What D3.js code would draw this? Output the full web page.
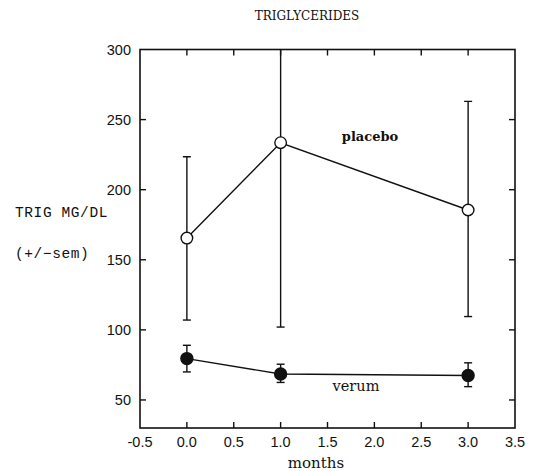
<!DOCTYPE html>
<html lang="en">
<head>
  <meta charset="UTF-8">
  <title>Triglycerides</title>
  <script src="https://d3js.org/d3.v7.min.js"></script>
  <style>
    body { margin: 0; background: #fff; }
    svg { display: block; }
    .tick-label { font-family: 'Liberation Sans', Arial, sans-serif; font-size: 14.5px; fill: #111; }
    .serif { font-family: 'DejaVu Serif', serif; fill: #111; }
    .mono { font-family: 'Liberation Mono', 'Courier New', monospace; fill: #111; font-size: 14.5px; letter-spacing: 0.6px; }
  </style>
</head>
<body>
  <svg id="chart" width="538" height="471"></svg>

  <script>
    // values
    const months = [0, 1, 3];
    const placeboMean = [165.5, 233.5, 185.5];
    const placeboLow  = [107, 102, 109.5];
    const placeboHigh = [223.5, 365, 263];
    const verumMean = [79.5, 68.5, 67.5];
    const verumLow  = [70, 62.5, 59.5];
    const verumHigh = [89, 75.5, 76.5];
    const xTicks = [-0.5, 0, 0.5, 1, 1.5, 2, 2.5, 3, 3.5];
    const yTicks = [50, 100, 150, 200, 250, 300];

    const svg = d3.select("#chart");
    const pLeft = 140, pRight = 515, pTop = 49.5, pBottom = 428;

    const x = d3.scaleLinear().domain([-0.5, 3.5]).range([pLeft, pRight]);
    const y = d3.scaleLinear().domain([30, 300]).range([pBottom, pTop]);

    const plot = svg.append("g");

    // frame
    plot.append("rect")
      .attr("x", pLeft).attr("y", pTop)
      .attr("width", pRight - pLeft).attr("height", pBottom - pTop)
      .attr("fill", "none").attr("stroke", "#111").attr("stroke-width", 1.6);

    // inward ticks on all four sides
    const tl = 6;
    const innerX = xTicks.filter(t => t > -0.5 && t < 3.5);
    const innerY = yTicks.filter(t => t > 30 && t < 300);
    plot.selectAll(".xt-top").data(innerX).enter().append("line")
      .attr("x1", d => x(d)).attr("x2", d => x(d))
      .attr("y1", pTop).attr("y2", pTop + tl)
      .attr("stroke", "#111").attr("stroke-width", 1.4);
    plot.selectAll(".xt-bot").data(innerX).enter().append("line")
      .attr("x1", d => x(d)).attr("x2", d => x(d))
      .attr("y1", pBottom).attr("y2", pBottom - tl)
      .attr("stroke", "#111").attr("stroke-width", 1.4);
    plot.selectAll(".yt-left").data(innerY).enter().append("line")
      .attr("x1", pLeft).attr("x2", pLeft + tl)
      .attr("y1", d => y(d)).attr("y2", d => y(d))
      .attr("stroke", "#111").attr("stroke-width", 1.4);
    plot.selectAll(".yt-right").data(innerY).enter().append("line")
      .attr("x1", pRight).attr("x2", pRight - tl)
      .attr("y1", d => y(d)).attr("y2", d => y(d))
      .attr("stroke", "#111").attr("stroke-width", 1.4);

    // tick labels
    svg.selectAll(".xl").data(xTicks).enter().append("text")
      .attr("class", "tick-label")
      .attr("x", d => x(d)).attr("y", 447)
      .attr("text-anchor", "middle")
      .text(d => d3.format(".1f")(d).replace("\u2212", "-"));
    svg.selectAll(".yl").data(yTicks).enter().append("text")
      .attr("class", "tick-label")
      .attr("x", 131).attr("y", d => y(d) + 5)
      .attr("text-anchor", "end")
      .text(d => d);

    // titles
    svg.append("text").attr("class", "serif")
      .attr("x", 307).attr("y", 20).attr("text-anchor", "middle")
      .style("font-size", "12px").text("TRIGLYCERIDES");
    svg.append("text").attr("class", "serif")
      .attr("x", 316).attr("y", 468).attr("text-anchor", "middle")
      .style("font-size", "15px").text("months");
    svg.append("text").attr("class", "mono")
      .attr("x", 15).attr("y", 217)
      .text("TRIG MG/DL");
    svg.append("text").attr("class", "mono")
      .attr("x", 15).attr("y", 258)
      .text("(+/\u2212sem)");

    svg.append("clipPath").attr("id", "plotClip")
      .append("rect").attr("x", pLeft).attr("y", pTop)
      .attr("width", pRight - pLeft).attr("height", pBottom - pTop);

    function series(mean, low, high, filled) {
      const g = svg.append("g").attr("clip-path", "url(#plotClip)");
      const pts = months.map((m, i) => ({ m, v: mean[i], lo: low[i], hi: high[i] }));

      g.selectAll(".err").data(pts).enter().append("line")
        .attr("x1", d => x(d.m)).attr("x2", d => x(d.m))
        .attr("y1", d => y(d.lo)).attr("y2", d => y(d.hi))
        .attr("stroke", "#111").attr("stroke-width", 1.4);
      g.selectAll(".cap-lo").data(pts).enter().append("line")
        .attr("x1", d => x(d.m) - 4).attr("x2", d => x(d.m) + 4)
        .attr("y1", d => y(d.lo)).attr("y2", d => y(d.lo))
        .attr("stroke", "#111").attr("stroke-width", 1.4);
      g.selectAll(".cap-hi").data(pts).enter().append("line")
        .attr("x1", d => x(d.m) - 4).attr("x2", d => x(d.m) + 4)
        .attr("y1", d => y(d.hi)).attr("y2", d => y(d.hi))
        .attr("stroke", "#111").attr("stroke-width", 1.4);

      g.append("path").datum(pts)
        .attr("d", d3.line().x(d => x(d.m)).y(d => y(d.v)))
        .attr("fill", "none").attr("stroke", "#111").attr("stroke-width", 1.4);

      g.selectAll(".pt").data(pts).enter().append("circle")
        .attr("cx", d => x(d.m)).attr("cy", d => y(d.v))
        .attr("r", filled ? 6 : 5.8)
        .attr("fill", filled ? "#111" : "#fff")
        .attr("stroke", "#111").attr("stroke-width", 1.4);
    }

    series(placeboMean, placeboLow, placeboHigh, false);
    series(verumMean, verumLow, verumHigh, true);

    svg.append("text").attr("class", "serif")
      .attr("x", 370).attr("y", 141).attr("text-anchor", "middle")
      .style("font-size", "13px").style("font-weight", "bold").text("placebo");
    svg.append("text").attr("class", "serif")
      .attr("x", 356).attr("y", 391).attr("text-anchor", "middle")
      .style("font-size", "14.5px").text("verum");
  </script>
</body>
</html>
